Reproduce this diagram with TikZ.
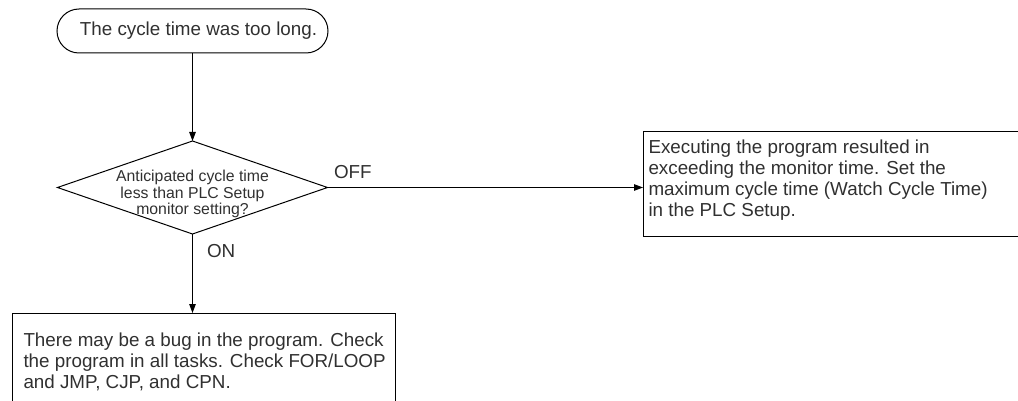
\documentclass[tikz,border=0pt]{standalone}
\usepackage{fontspec}
\setmainfont{Liberation Sans}
\usetikzlibrary{shapes.geometric,arrows.meta}
\definecolor{txt}{HTML}{303030}
\begin{document}
\begin{tikzpicture}[x=1pt,y=-1pt,
  line width=1pt,
  every node/.style={text=txt},
  bigfont/.style={font=\fontsize{18.8}{21}\selectfont},
  terminal/.style={draw=black, rounded corners=22pt, minimum width=271pt, minimum height=44pt, inner sep=0pt, outer sep=0pt, bigfont},
  decision/.style={draw=black, diamond, minimum width=270pt, minimum height=93pt, inner sep=0pt, outer sep=0pt},
  dtext/.style={align=center, inner sep=0pt, font=\fontsize{15.8}{16.3}\selectfont},
  frame/.style={draw=black, inner sep=0pt, outer sep=0pt, anchor=north west},
  boxtext/.style={align=left, inner sep=0pt, anchor=north west, bigfont},
  flow/.style={draw=black, -{Triangle[length=9pt,width=6.5pt]}},
  lbl/.style={inner sep=0pt, anchor=base west, bigfont}
]
\useasboundingbox (0,0) rectangle (1018,401);
\clip (0,0) rectangle (1018,401);

\node[terminal] (start) at (192.5,31) {\hspace*{12pt}The cycle time was too long.};
\node[decision] (dec) at (192.5,187.5) {};
\node[dtext] (dectext) at (192.5,194) {Anticipated cycle time\\less than PLC Setup\\monitor setting?};

\node[frame, minimum width=420pt, minimum height=104pt] (offbox) at (643,132) {};
\node[boxtext] (offtext) at (648,139) {Executing the program resulted in\\exceeding the monitor time. Set the\\maximum cycle time (Watch Cycle Time)\\in the PLC Setup.};

\node[frame, minimum width=383pt, minimum height=120pt] (onbox) at (12,313) {};
\node[boxtext] (ontext) at (23,332) {There may be a bug in the program. Check\\the program in all tasks. Check FOR/LOOP\\and JMP, CJP, and CPN.};

\draw[flow] (start.south) -- (dec.north);
\draw[flow] (dec.east) -- (dec.east -| offbox.west) node[lbl, pos=0, xshift=6pt, yshift=9pt] {OFF};
\draw[flow] (dec.south) -- (dec.south |- onbox.north) node[lbl, pos=0, xshift=14pt, yshift=-23pt] {ON};
\end{tikzpicture}
\end{document}
